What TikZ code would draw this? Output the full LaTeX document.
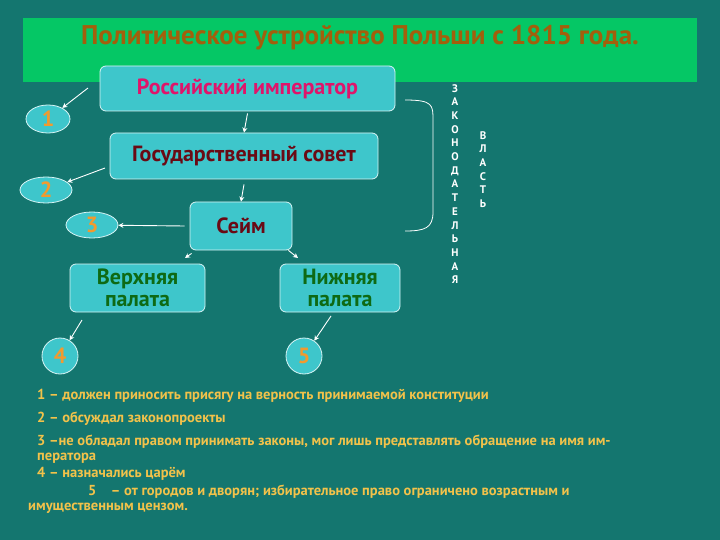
\documentclass[tikz,border=0pt]{standalone}
\usepackage{fontspec}
\setmainfont{PT Sans}
\usetikzlibrary{arrows.meta,shapes.geometric}
\definecolor{bg}{HTML}{14766F}
\definecolor{bar}{HTML}{05C765}
\definecolor{boxc}{HTML}{3EC6CB}
\definecolor{titlec}{HTML}{A35F0C}
\definecolor{numc}{HTML}{F29A2E}
\definecolor{txtc}{HTML}{F2C24A}
\definecolor{redc}{HTML}{E0146A}
\definecolor{darkred}{HTML}{6A0A14}
\definecolor{greenc}{HTML}{0E6A14}
\tikzset{
 box/.style={draw=white!80!boxc,fill=boxc,rounded corners=6pt,line width=0.8pt,inner sep=0pt,align=center,font=\bfseries\fontsize{22}{22}\selectfont},
 num/.style={ellipse,draw=white!80!boxc,fill=boxc,line width=0.8pt,inner sep=0pt,text=numc,font=\bfseries\fontsize{22}{22}\selectfont},
 arr/.style={draw=white,line width=0.9pt,-{Stealth[length=5pt,width=5pt]}},
 vt/.style={text=white,font=\bfseries\fontsize{11}{13.7}\selectfont,align=center,inner sep=0pt},
 lt/.style={text=txtc,font=\bfseries\fontsize{14.5}{16}\selectfont,anchor=west,inner sep=0pt}
}
\begin{document}
\begin{tikzpicture}[x=1pt,y=-1pt]
\useasboundingbox (0,0) rectangle (720,540);
\fill[bg] (0,0) rectangle (720,540);
\fill[bar] (23,18) rectangle (697,82);
\node[text=titlec,font=\bfseries\fontsize{27}{28}\selectfont] (title) at (360,38) {Политическое устройство Польши с 1815 года.};
\node[box,minimum width=295pt,minimum height=45pt,text=redc] (emp) at (247.5,88.5) {Российский император};
\node[box,minimum width=268pt,minimum height=46pt,text=darkred] (sov) at (244,156) {Государственный совет};
\node[box,minimum width=102pt,minimum height=48pt,text=darkred] (sejm) at (241,226) {Сейм};
\node[box,minimum width=135pt,minimum height=48pt,text=greenc] (up) at (137.5,288) {Верхняя\\палата};
\node[box,minimum width=120pt,minimum height=48pt,text=greenc] (low) at (340,288) {Нижняя\\палата};
\node[num,minimum width=44pt,minimum height=28pt] (n1) at (48,119) {1};
\node[num,minimum width=52pt,minimum height=26pt] (n2) at (46,190) {2};
\node[num,minimum width=52pt,minimum height=26pt] (n3) at (92,225) {3};
\node[num,minimum width=36pt,minimum height=36pt] (n4) at (60,356) {4};
\node[num,minimum width=36pt,minimum height=36pt] (n5) at (304,356) {5};
\coordinate (a1) at (88,88);
\coordinate (a2) at (105,168);
\coordinate (a4) at (82,320);
\coordinate (a5) at (331,316);
\draw[arr] (a1) -- (n1);
\draw[arr] (a2) -- (n2);
\draw[arr] (sejm.west) ++(-5,0) coordinate (a3) (a3) -- (n3);
\draw[arr] (a4) -- (n4);
\draw[arr] (a5) -- (n5);
\draw[arr] (emp.south) ++(0,2) coordinate (e1) (e1) -- (sov.north);
\draw[arr] (sov.south) ++(0,5) coordinate (s1) (s1) -- (sejm.north);
\coordinate (u1) at (185,258);
\coordinate (l1) at (298,258);
\draw[arr] (sejm.south west) ++(2,3) coordinate (sw) (sw) -- (u1);
\draw[arr] (sejm.south east) ++(-4,0) coordinate (se) (se) -- (l1);
\coordinate (b1) at (405,100);
\coordinate (b2) at (405,231);
\draw[white,line width=0.8pt] (b1) .. controls (433,100) and (433,105) .. (433,120) -- (433,212) .. controls (433,228) and (425,231) .. (b2);
\node[vt,anchor=north] (zak) at (455,84) {З\\А\\К\\О\\Н\\О\\Д\\А\\Т\\Е\\Л\\Ь\\Н\\А\\Я};
\node[vt,anchor=north] (vl) at (483,131) {В\\Л\\А\\С\\Т\\Ь};
\node[lt] (t1) at (37,396) {1 – должен приносить присягу на верность принимаемой конституции};
\node[lt] (t2) at (37,419) {2 – обсуждал законопроекты};
\node[lt] (t3) at (37,442) {3 –не обладал правом принимать законы, мог лишь представлять обращение на имя им-};
\node[lt] (t3b) at (37,458) {ператора};
\node[lt] (t4) at (37,474) {4 – назначались царём};
\node[lt] (t5) at (88,492) {5\quad – от городов и дворян; избирательное право ограничено возрастным и};
\node[lt] (t5b) at (28,508) {имущественным цензом.};
\end{tikzpicture}
\end{document}
